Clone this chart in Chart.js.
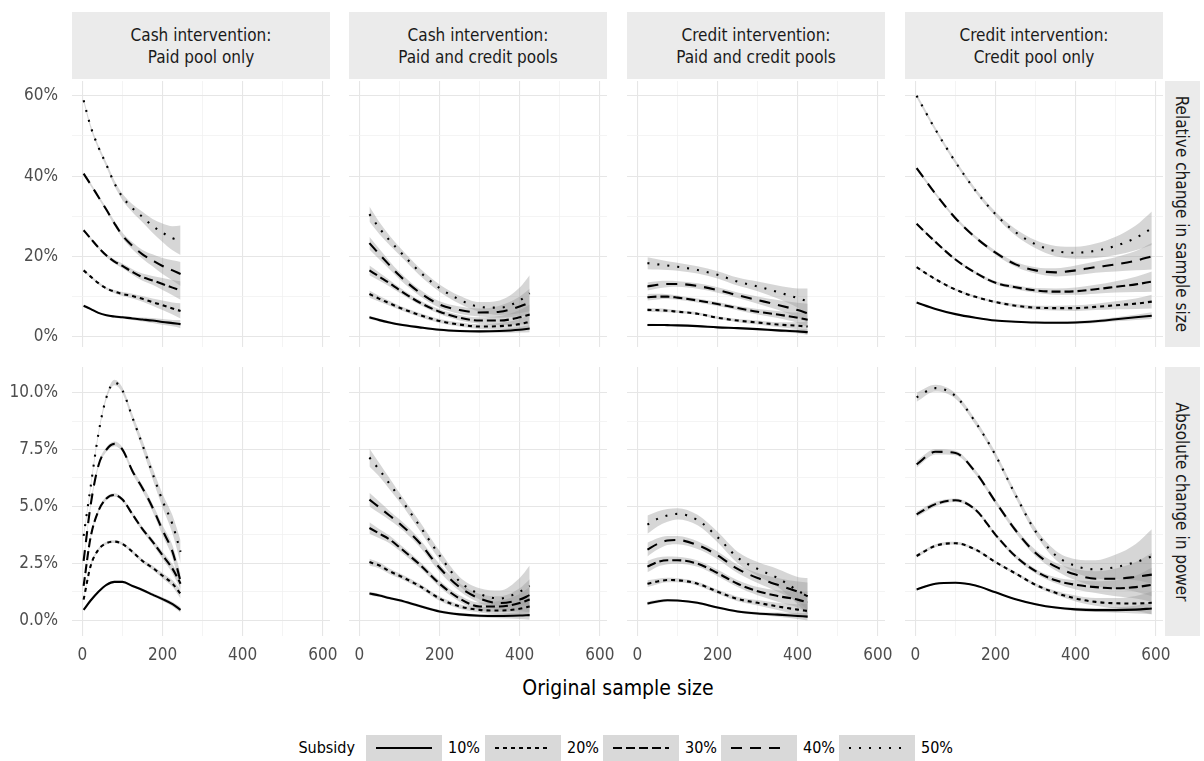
<!DOCTYPE html>
<html>
<head>
<meta charset="utf-8">
<script src="https://cdn.jsdelivr.net/npm/chart.js@4.4.1/dist/chart.umd.min.js"></script>
<style>
  body { margin: 0; background: #fff; width: 1204px; height: 761px; position: relative; overflow: hidden;
         font-family: "Liberation Sans Narrow", "DejaVu Sans Condensed", "Roboto Condensed", sans-serif; }
  .panel { position: absolute; }
  .strip { position: absolute; background: #ebebeb; color: #1a1a1a; font-size: 17px; line-height: 22px;
           display: flex; align-items: center; justify-content: center; text-align: center; white-space: pre; }
  .rstrip { position: absolute; background: #ebebeb; color: #1a1a1a; font-size: 17px;
            display: flex; align-items: center; justify-content: center; }
  .rstrip span { transform: rotate(90deg); white-space: nowrap; display: block; }
  #xtitle { position: absolute; left: 418px; width: 400px; top: 676px; text-align: center; font-size: 21px; color: #000; }
  .lg { position: absolute; font-size: 16px; color: #000; line-height: 26px; height: 26px; top: 735px; }
  .key { position: absolute; width: 76px; height: 26px; top: 735px; background: #d9d9d9; }
</style>
</head>
<body>
<div id="xtitle">Original sample size</div>
<script>
// subsidy levels, one line per level
const subsidies = ["10%", "20%", "30%", "40%", "50%"];
const dashes = [[], [4, 4], [9, 4], [11, 8], [2, 8]];

const columnLabels = ["Cash intervention:\nPaid pool only", "Cash intervention:\nPaid and credit pools",
                      "Credit intervention:\nPaid and credit pools", "Credit intervention:\nCredit pool only"];
const rowLabels = ["Relative change in sample size", "Absolute change in power"];

// original sample size (x) for each intervention
const xCashPaid = [3, 20, 40, 60, 80, 100, 125, 150, 175, 200, 225, 245];
const xCashBoth = [25, 50, 75, 100, 150, 200, 250, 300, 350, 400, 425];
const xCreditBoth = [25, 50, 75, 100, 150, 200, 250, 300, 350, 400, 425];
const xCreditOnly = [3, 50, 100, 150, 200, 250, 300, 350, 400, 450, 500, 550, 590];

// relative change in sample size (%), rows = 10%..50% subsidy
const relCashPaid = [
  [7.7, 6.9, 5.9, 5.3, 5.0, 4.8, 4.5, 4.25, 4.0, 3.65, 3.35, 3.1],
  [16.5, 15.0, 13.3, 12.0, 11.2, 10.6, 10.1, 9.4, 8.6, 7.8, 7.0, 6.4],
  [26.5, 24.5, 22.2, 20.2, 18.7, 17.6, 16.1, 14.8, 14.0, 13.1, 12.2, 11.5],
  [40.6, 38.0, 34.8, 31.6, 28.2, 25.2, 22.6, 20.5, 19.0, 17.6, 16.5, 15.6],
  [58.9, 52.5, 47.2, 42.8, 38.2, 34.8, 32.0, 29.8, 27.6, 25.9, 24.5, 24.0]
];
const seRelCashPaid = [
  [0.2, 0.2, 0.2, 0.2, 0.3, 0.3, 0.4, 0.5, 0.6, 0.7, 0.8, 1.0],
  [0.3, 0.3, 0.3, 0.3, 0.4, 0.5, 0.6, 0.7, 0.9, 1.2, 1.5, 1.9],
  [0.3, 0.3, 0.3, 0.4, 0.5, 0.6, 0.7, 0.9, 1.1, 1.5, 1.9, 2.3],
  [0.4, 0.4, 0.4, 0.5, 0.6, 0.7, 0.9, 1.1, 1.5, 2.0, 2.5, 3.0],
  [0.5, 0.5, 0.5, 0.6, 0.7, 0.8, 1.0, 1.3, 1.7, 2.3, 3.0, 3.7]
];
const relCashBoth = [
  [4.8, 4.1, 3.5, 3.0, 2.3, 1.7, 1.4, 1.3, 1.4, 1.7, 2.0],
  [10.6, 9.4, 8.3, 7.2, 5.4, 3.9, 3.0, 2.5, 2.6, 3.1, 3.7],
  [16.5, 14.9, 13.3, 11.6, 8.5, 6.2, 4.7, 4.0, 4.0, 4.8, 5.5],
  [23.3, 20.5, 17.8, 15.2, 11.0, 8.0, 6.6, 6.0, 6.2, 7.5, 8.5],
  [30.5, 27.0, 24.0, 21.3, 16.2, 12.1, 9.2, 7.4, 7.2, 9.0, 10.8]
];
const seRelCashBoth = [
  [0.4, 0.35, 0.3, 0.3, 0.3, 0.3, 0.3, 0.35, 0.45, 0.7, 0.9],
  [0.9, 0.7, 0.6, 0.5, 0.5, 0.5, 0.5, 0.6, 0.8, 1.3, 1.8],
  [1.2, 1.0, 0.8, 0.7, 0.6, 0.6, 0.7, 0.8, 1.1, 1.8, 2.5],
  [1.6, 1.3, 1.0, 0.9, 0.8, 0.8, 0.9, 1.0, 1.5, 2.5, 3.4],
  [1.9, 1.5, 1.2, 1.0, 0.9, 0.9, 1.0, 1.2, 1.8, 3.2, 4.5]
];
const relCreditBoth = [
  [2.9, 2.9, 2.85, 2.8, 2.6, 2.3, 2.1, 1.85, 1.55, 1.3, 1.1],
  [6.65, 6.6, 6.45, 6.2, 5.7, 4.7, 4.0, 3.5, 3.0, 2.7, 2.5],
  [9.8, 9.95, 9.95, 9.7, 9.0, 8.1, 7.1, 6.2, 5.5, 4.7, 4.2],
  [12.5, 12.9, 13.1, 13.1, 12.6, 11.6, 10.3, 9.1, 7.9, 6.6, 5.8],
  [18.3, 18.0, 17.7, 17.4, 16.6, 15.4, 13.7, 12.5, 11.1, 9.6, 8.8]
];
const seRelCreditBoth = [
  [0.3, 0.25, 0.2, 0.2, 0.2, 0.2, 0.2, 0.25, 0.35, 0.5, 0.7],
  [0.5, 0.45, 0.4, 0.35, 0.35, 0.35, 0.4, 0.5, 0.6, 0.9, 1.2],
  [0.8, 0.7, 0.6, 0.55, 0.5, 0.5, 0.55, 0.7, 0.9, 1.3, 1.8],
  [1.0, 0.9, 0.8, 0.7, 0.7, 0.7, 0.7, 0.9, 1.2, 1.8, 2.4],
  [1.5, 1.3, 1.1, 1.0, 0.9, 0.9, 1.0, 1.2, 1.6, 2.4, 3.2]
];
const relCreditOnly = [
  [8.5, 6.9, 5.6, 4.7, 4.0, 3.7, 3.5, 3.45, 3.5, 3.8, 4.3, 4.8, 5.2],
  [17.3, 14.3, 11.7, 9.9, 8.6, 7.7, 7.2, 7.1, 7.1, 7.4, 7.8, 8.2, 8.7],
  [28.1, 23.6, 19.2, 15.9, 13.4, 12.3, 11.5, 11.2, 11.3, 11.8, 12.4, 13.0, 13.7],
  [42.0, 35.6, 29.5, 24.7, 20.9, 18.0, 16.5, 16.0, 16.5, 17.3, 18.0, 18.9, 20.0],
  [60.0, 51.6, 43.5, 36.4, 30.5, 26.0, 23.0, 21.3, 20.9, 21.4, 22.6, 24.6, 27.0]
];
const seRelCreditOnly = [
  [0.1, 0.1, 0.1, 0.15, 0.15, 0.2, 0.25, 0.3, 0.35, 0.4, 0.5, 0.65, 0.85],
  [0.25, 0.25, 0.25, 0.3, 0.3, 0.4, 0.5, 0.6, 0.7, 0.8, 1.0, 1.3, 1.7],
  [0.3, 0.3, 0.3, 0.35, 0.4, 0.5, 0.6, 0.8, 0.9, 1.1, 1.4, 1.9, 2.5],
  [0.4, 0.4, 0.4, 0.4, 0.5, 0.6, 0.8, 1.0, 1.2, 1.4, 1.8, 2.4, 3.3],
  [0.5, 0.5, 0.5, 0.5, 0.6, 0.8, 1.0, 1.3, 1.5, 1.8, 2.3, 3.1, 4.2]
];

// absolute change in power (percentage points)
const powCashPaid = [
  [0.45, 0.85, 1.25, 1.55, 1.68, 1.68, 1.5, 1.32, 1.12, 0.92, 0.7, 0.45],
  [0.9, 2.35, 3.1, 3.38, 3.45, 3.35, 3.0, 2.6, 2.3, 1.95, 1.6, 1.15],
  [1.5, 3.6, 4.8, 5.35, 5.5, 5.3, 4.65, 4.0, 3.45, 2.85, 2.25, 1.6],
  [2.6, 5.0, 6.8, 7.5, 7.75, 7.5, 6.55, 5.8, 4.95, 3.95, 3.0, 1.7],
  [3.7, 5.8, 8.2, 9.8, 10.45, 10.1, 8.9, 7.7, 6.45, 5.25, 4.2, 3.0]
];
const sePowCashPaid = [
  [0.05, 0.05, 0.05, 0.05, 0.05, 0.05, 0.05, 0.06, 0.07, 0.08, 0.1, 0.12],
  [0.06, 0.06, 0.06, 0.06, 0.06, 0.06, 0.07, 0.08, 0.1, 0.12, 0.15, 0.2],
  [0.08, 0.08, 0.08, 0.08, 0.08, 0.08, 0.09, 0.1, 0.12, 0.16, 0.2, 0.25],
  [0.1, 0.1, 0.1, 0.1, 0.1, 0.1, 0.12, 0.14, 0.17, 0.22, 0.28, 0.35],
  [0.1, 0.1, 0.1, 0.1, 0.12, 0.12, 0.15, 0.2, 0.25, 0.3, 0.4, 0.5]
];
const powCashBoth = [
  [1.17, 1.08, 0.97, 0.87, 0.62, 0.38, 0.25, 0.19, 0.18, 0.2, 0.22],
  [2.55, 2.4, 2.15, 1.95, 1.5, 0.95, 0.6, 0.45, 0.42, 0.5, 0.6],
  [4.05, 3.8, 3.55, 3.2, 2.45, 1.6, 0.95, 0.6, 0.6, 0.75, 0.9],
  [5.3, 4.95, 4.6, 4.25, 3.4, 2.3, 1.45, 0.95, 0.75, 0.9, 1.1],
  [7.15, 6.6, 6.0, 5.4, 4.15, 2.85, 1.7, 1.15, 0.95, 1.25, 1.5]
];
const sePowCashBoth = [
  [0.08, 0.07, 0.06, 0.06, 0.06, 0.06, 0.06, 0.07, 0.1, 0.15, 0.2],
  [0.15, 0.13, 0.12, 0.11, 0.1, 0.1, 0.1, 0.12, 0.18, 0.28, 0.38],
  [0.25, 0.2, 0.17, 0.15, 0.14, 0.14, 0.14, 0.17, 0.25, 0.4, 0.55],
  [0.3, 0.25, 0.2, 0.18, 0.17, 0.17, 0.17, 0.2, 0.3, 0.5, 0.7],
  [0.4, 0.3, 0.25, 0.2, 0.2, 0.2, 0.2, 0.25, 0.35, 0.6, 0.9]
];
const powCreditBoth = [
  [0.73, 0.82, 0.87, 0.86, 0.76, 0.55, 0.38, 0.29, 0.24, 0.18, 0.15],
  [1.6, 1.7, 1.76, 1.75, 1.6, 1.25, 0.93, 0.76, 0.6, 0.46, 0.4],
  [2.35, 2.55, 2.63, 2.63, 2.48, 2.07, 1.6, 1.27, 1.06, 0.9, 0.78],
  [3.1, 3.35, 3.5, 3.52, 3.3, 2.85, 2.25, 1.85, 1.55, 1.25, 1.05],
  [4.2, 4.45, 4.6, 4.67, 4.4, 3.65, 2.75, 2.25, 1.85, 1.3, 1.05]
];
const sePowCreditBoth = [
  [0.08, 0.07, 0.06, 0.05, 0.05, 0.05, 0.05, 0.07, 0.09, 0.13, 0.17],
  [0.15, 0.12, 0.1, 0.09, 0.09, 0.09, 0.1, 0.12, 0.16, 0.24, 0.32],
  [0.25, 0.2, 0.17, 0.15, 0.14, 0.14, 0.15, 0.18, 0.25, 0.35, 0.48],
  [0.3, 0.25, 0.2, 0.18, 0.17, 0.17, 0.18, 0.22, 0.3, 0.45, 0.6],
  [0.4, 0.33, 0.28, 0.25, 0.23, 0.23, 0.25, 0.3, 0.4, 0.6, 0.8]
];
const powCreditOnly = [
  [1.35, 1.6, 1.64, 1.52, 1.22, 0.92, 0.7, 0.55, 0.47, 0.44, 0.44, 0.46, 0.51],
  [2.82, 3.27, 3.38, 3.1, 2.55, 2.05, 1.55, 1.2, 0.95, 0.8, 0.74, 0.73, 0.76],
  [4.65, 5.1, 5.27, 4.85, 3.75, 2.8, 2.15, 1.75, 1.55, 1.45, 1.4, 1.45, 1.55],
  [6.85, 7.4, 7.35, 6.5, 5.2, 3.95, 2.95, 2.35, 2.0, 1.82, 1.82, 1.9, 2.0],
  [9.8, 10.2, 9.85, 8.7, 7.25, 5.5, 3.9, 2.85, 2.38, 2.23, 2.33, 2.55, 2.8]
];
const sePowCreditOnly = [
  [0.04, 0.04, 0.03, 0.03, 0.03, 0.03, 0.04, 0.05, 0.07, 0.09, 0.12, 0.17, 0.25],
  [0.08, 0.07, 0.06, 0.06, 0.06, 0.06, 0.07, 0.09, 0.13, 0.17, 0.23, 0.33, 0.5],
  [0.12, 0.1, 0.08, 0.08, 0.08, 0.09, 0.1, 0.13, 0.2, 0.26, 0.35, 0.5, 0.75],
  [0.15, 0.12, 0.1, 0.1, 0.1, 0.11, 0.13, 0.17, 0.25, 0.33, 0.45, 0.65, 0.95],
  [0.2, 0.15, 0.12, 0.12, 0.12, 0.13, 0.15, 0.2, 0.3, 0.4, 0.55, 0.8, 1.2]
];

// axis ranges per row
const xMin = -26, xMax = 618;
const yRange = [[-2.6, 63.7], [-0.7, 11.13]];
const yStep = [10, 1.25];

const panels = [
  { col: 0, row: 0, x: xCashPaid, y: relCashPaid, se: seRelCashPaid },
  { col: 1, row: 0, x: xCashBoth, y: relCashBoth, se: seRelCashBoth },
  { col: 2, row: 0, x: xCreditBoth, y: relCreditBoth, se: seRelCreditBoth },
  { col: 3, row: 0, x: xCreditOnly, y: relCreditOnly, se: seRelCreditOnly },
  { col: 0, row: 1, x: xCashPaid, y: powCashPaid, se: sePowCashPaid },
  { col: 1, row: 1, x: xCashBoth, y: powCashBoth, se: sePowCashBoth },
  { col: 2, row: 1, x: xCreditBoth, y: powCreditBoth, se: sePowCreditBoth },
  { col: 3, row: 1, x: xCreditOnly, y: powCreditOnly, se: sePowCreditOnly }
];

// layout (pixels)
const panelLeft = [72, 349, 627, 905];
const panelWidth = 258;
const panelTop = [81, 367];
const panelBottom = [347, 636];
const extraRight = 20; // room for the "600" label past the panel edge
const FONT = '"Liberation Sans Narrow", "DejaVu Sans Condensed", "Roboto Condensed", sans-serif';

Chart.defaults.font.family = FONT;
Chart.defaults.animation = false;

function isMajorX(v) { return v % 200 === 0; }
function isMajorY(row, v) {
  const m = row === 0 ? 20 : 2.5;
  return Math.abs(v / m - Math.round(v / m)) < 1e-6;
}
// keep the plot area exactly where the panel is: no label overflow padding
function fixSize(s, w, h) {
  if (w !== null) s.width = w;
  if (h !== null) s.height = h;
  s.paddingLeft = 0; s.paddingRight = 0; s.paddingTop = 0; s.paddingBottom = 0;
}

// strips
columnLabels.forEach((txt, c) => {
  const s = document.createElement("div");
  s.className = "strip";
  s.style.left = panelLeft[c] + "px";
  s.style.width = panelWidth + "px";
  s.style.top = "12px";
  s.style.height = "67px";
  s.textContent = txt;
  document.body.appendChild(s);
});
rowLabels.forEach((txt, r) => {
  const s = document.createElement("div");
  s.className = "rstrip";
  s.style.left = "1165px";
  s.style.width = "35px";
  s.style.top = panelTop[r] + "px";
  s.style.height = (panelBottom[r] - panelTop[r]) + "px";
  const sp = document.createElement("span");
  sp.textContent = txt;
  s.appendChild(sp);
  document.body.appendChild(s);
});

function buildPanel(p) {
  const yw = p.col === 0 ? 72 : 0;
  const xh = p.row === 1 ? 40 : 0;
  const div = document.createElement("div");
  div.className = "panel";
  div.style.left = (panelLeft[p.col] - yw) + "px";
  div.style.top = panelTop[p.row] + "px";
  div.style.width = (panelWidth + yw + extraRight) + "px";
  div.style.height = (panelBottom[p.row] - panelTop[p.row] + xh) + "px";
  const canvas = document.createElement("canvas");
  div.appendChild(canvas);
  document.body.appendChild(div);

  const datasets = [];
  // confidence bands
  p.y.forEach((vals, i) => {
    datasets.push({
      data: p.x.map((x, j) => ({ x: x, y: vals[j] - p.se[i][j] })),
      borderColor: "rgba(0,0,0,0)", borderWidth: 0, pointRadius: 0, fill: false,
      cubicInterpolationMode: "monotone", order: 1
    });
    datasets.push({
      data: p.x.map((x, j) => ({ x: x, y: vals[j] + p.se[i][j] })),
      borderColor: "rgba(0,0,0,0)", borderWidth: 0, pointRadius: 0, fill: "-1",
      backgroundColor: "rgba(153,153,153,0.4)",
      cubicInterpolationMode: "monotone", order: 1
    });
  });
  // fitted lines
  p.y.forEach((vals, i) => {
    datasets.push({
      label: subsidies[i],
      data: p.x.map((x, j) => ({ x: x, y: vals[j] })),
      borderColor: "#000", borderWidth: 2.1, borderDash: dashes[i], pointRadius: 0, fill: false,
      cubicInterpolationMode: "monotone", order: 0
    });
  });

  const row = p.row;
  new Chart(canvas, {
    type: "line",
    data: { datasets: datasets },
    options: {
      responsive: true,
      maintainAspectRatio: false,
      layout: { padding: { left: 0, top: 0, bottom: 0, right: extraRight }, autoPadding: false },
      plugins: { legend: { display: false }, tooltip: { enabled: false } },
      events: [],
      scales: {
        x: {
          type: "linear",
          min: xMin, max: xMax,
          border: { display: false },
          grid: {
            drawTicks: false,
            color: (c) => (isMajorX(c.tick.value) ? "#e6e6e6" : "#f1f1f1"),
            lineWidth: (c) => (isMajorX(c.tick.value) ? 1.1 : 0.8)
          },
          ticks: {
            display: row === 1,
            stepSize: 100,
            includeBounds: false,
            maxRotation: 0,
            autoSkip: false,
            padding: 9,
            color: "#4d4d4d",
            font: { size: 17 },
            callback: (v) => (isMajorX(v) ? String(v) : "")
          },
          afterFit: (s) => fixSize(s, null, xh)
        },
        y: {
          min: yRange[row][0], max: yRange[row][1],
          border: { display: false },
          grid: {
            drawTicks: false,
            color: (c) => (isMajorY(row, c.tick.value) ? "#e6e6e6" : "#f1f1f1"),
            lineWidth: (c) => (isMajorY(row, c.tick.value) ? 1.1 : 0.8)
          },
          ticks: {
            display: p.col === 0,
            stepSize: yStep[row],
            includeBounds: false,
            autoSkip: false,
            padding: 14,
            color: "#4d4d4d",
            font: { size: 17 },
            callback: (v) => {
              if (!isMajorY(row, v)) return "";
              return row === 0 ? Math.round(v) + "%" : v.toFixed(1) + "%";
            }
          },
          afterFit: (s) => fixSize(s, yw, null)
        }
      }
    }
  });
}

panels.forEach(buildPanel);

// legend
const keyLeft = [366, 485, 603, 721, 839];
const lgTitle = document.createElement("div");
lgTitle.className = "lg";
lgTitle.style.left = "255px";
lgTitle.style.width = "100px";
lgTitle.style.textAlign = "right";
lgTitle.textContent = "Subsidy";
document.body.appendChild(lgTitle);
subsidies.forEach((s, i) => {
  const key = document.createElement("div");
  key.className = "key";
  key.style.left = keyLeft[i] + "px";
  key.innerHTML = '<svg width="76" height="26"><line x1="10" y1="13" x2="66" y2="13" stroke="#000" stroke-width="2" stroke-dasharray="' +
    (dashes[i].length ? dashes[i].join(",") : "none") + '"/></svg>';
  document.body.appendChild(key);
  const lab = document.createElement("div");
  lab.className = "lg";
  lab.style.left = (keyLeft[i] + 82) + "px";
  lab.textContent = s;
  document.body.appendChild(lab);
});
</script>
</body>
</html>
